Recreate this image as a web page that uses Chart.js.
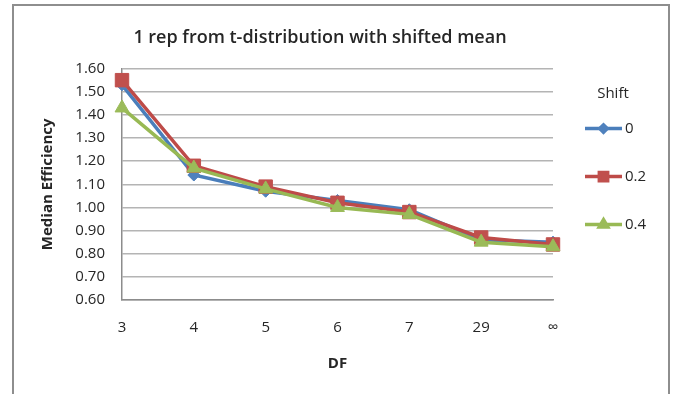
<!DOCTYPE html>
<html>
<head>
<meta charset="utf-8">
<script src="https://cdn.jsdelivr.net/npm/chart.js@4/dist/chart.umd.min.js"></script>
<style>
  html, body { margin: 0; padding: 0; background: #ffffff; }
  #wrap { position: relative; width: 677px; height: 394px; overflow: hidden; }
  #frame { position: absolute; left: 12px; top: 4px; width: 654px; height: 400px;
           border: 2px solid #8e8e8e; border-bottom: none; }
  #c { position: absolute; left: 0; top: 0; }
</style>
</head>
<body>
<div id="wrap">
  <div id="frame"></div>
  <canvas id="c" width="677" height="394"></canvas>
</div>
<script>
// Degrees of freedom on the category axis
const dfLabels = ['3', '4', '5', '6', '7', '29', '\u221E'];

// Median efficiency for each mean shift
const shiftNames = ['0', '0.2', '0.4'];
const effShift0  = [1.53, 1.14, 1.07, 1.03, 0.99, 0.86, 0.85];
const effShift02 = [1.55, 1.18, 1.09, 1.02, 0.98, 0.87, 0.84];
const effShift04 = [1.43, 1.17, 1.08, 1.00, 0.97, 0.85, 0.83];

// Value axis range and step
const yMin = 0.6;
const yMax = 1.6;
const yStep = 0.1;

const chartTitle = '1 rep from t-distribution with shifted mean';
const xTitle = 'DF';
const yTitle = 'Median Efficiency';
const legendTitle = 'Shift';

const FONT = '"Open Sans", "Liberation Sans", sans-serif';
const TEXT = '#262626';

// Legend drawn as its own layout box on the right of the plot
const shiftLegend = {
  id: 'shiftLegend',
  beforeInit(chart) {
    const box = {
      position: 'right',
      weight: 10,
      fullSize: false,
      options: {},
      left: 0, top: 0, right: 0, bottom: 0, width: 0, height: 0,
      isHorizontal() { return false; },
      update(maxWidth, maxHeight) { this.width = 74; this.height = maxHeight; },
      draw() {
        const ctx = chart.ctx;
        ctx.save();
        ctx.font = '15px ' + FONT;
        ctx.fillStyle = TEXT;
        ctx.textAlign = 'center';
        ctx.textBaseline = 'middle';
        ctx.fillText(legendTitle, this.left + 60, this.top + 25);
        chart.data.datasets.forEach((ds, i) => {
          const y = this.top + 60 + i * 48;
          const x0 = this.left + 32, x1 = this.left + 69;
          ctx.strokeStyle = ds.borderColor;
          ctx.lineWidth = ds.borderWidth;
          ctx.beginPath();
          ctx.moveTo(x0, y);
          ctx.lineTo(x1, y);
          ctx.stroke();
          ctx.fillStyle = ds.pointBackgroundColor;
          ctx.strokeStyle = ds.pointBorderColor;
          Chart.helpers.drawPoint(ctx, {
            pointStyle: ds.pointStyle, rotation: 0,
            radius: ds.pointRadius * 0.62, borderWidth: 1
          }, (x0 + x1) / 2, y);
          ctx.fillStyle = TEXT;
          ctx.textAlign = 'left';
          ctx.fillText(ds.label, this.left + 72, y);
        });
        ctx.restore();
      }
    };
    Chart.layouts.addBox(chart, box);
  }
};

// Later shifts are painted over earlier ones (lower order = on top)
function series(label, data, line, fill, style, radius, order) {
  return {
    label, data, order,
    borderColor: line,
    borderWidth: 3.5,
    pointStyle: style,
    pointRadius: radius,
    pointBackgroundColor: fill,
    pointBorderColor: fill,
    pointBorderWidth: 1,
    tension: 0,
    fill: false
  };
}

new Chart(document.getElementById('c'), {
  type: 'line',
  data: {
    labels: dfLabels,
    datasets: [
      series(shiftNames[0], effShift0,  '#4a7ebb', '#4f81bd', 'rectRot', 6, 2),
      series(shiftNames[1], effShift02, '#be4b48', '#c0504d', 'rect', 9.5, 1),
      series(shiftNames[2], effShift04, '#98b954', '#9bbb59', 'triangle', 8, 0)
    ]
  },
  options: {
    responsive: false,
    animation: false,
    devicePixelRatio: 1,
    layout: { padding: { left: 13, right: 50, top: 5, bottom: 0 } },
    plugins: {
      legend: { display: false },
      tooltip: { enabled: false },
      title: {
        display: true,
        text: chartTitle,
        color: TEXT,
        font: { family: FONT, size: 18, weight: '600' },
        padding: { top: 22, bottom: 20 }
      }
    },
    scales: {
      x: {
        type: 'category',
        offset: false,
        grid: { display: false, drawTicks: false },
        border: { display: true, color: '#8c8c8c', width: 1.5 },
        ticks: { color: TEXT, font: { family: FONT, size: 15 }, padding: 19, maxRotation: 0, autoSkip: false },
        title: {
          display: true, text: xTitle, color: TEXT,
          font: { family: FONT, size: 15, weight: 'bold' },
          padding: { top: 0, bottom: 21 }
        },
        afterFit(scale) { scale.height = 94; }
      },
      y: {
        min: yMin,
        max: yMax,
        ticks: {
          stepSize: yStep,
          color: TEXT,
          font: { family: FONT, size: 15 },
          padding: 17,
          callback: (v) => Number(v).toFixed(2)
        },
        grid: { color: '#b4b4b4', lineWidth: 1.5, drawTicks: false },
        border: { display: true, color: '#8c8c8c', width: 1.5 },
        title: {
          display: true, text: yTitle, color: TEXT,
          font: { family: FONT, size: 15, weight: 'bold' },
          padding: { top: 26, bottom: 0 }
        },
        afterFit(scale) { scale.width = 109; }
      }
    }
  },
  plugins: [shiftLegend]
});
</script>
</body>
</html>
